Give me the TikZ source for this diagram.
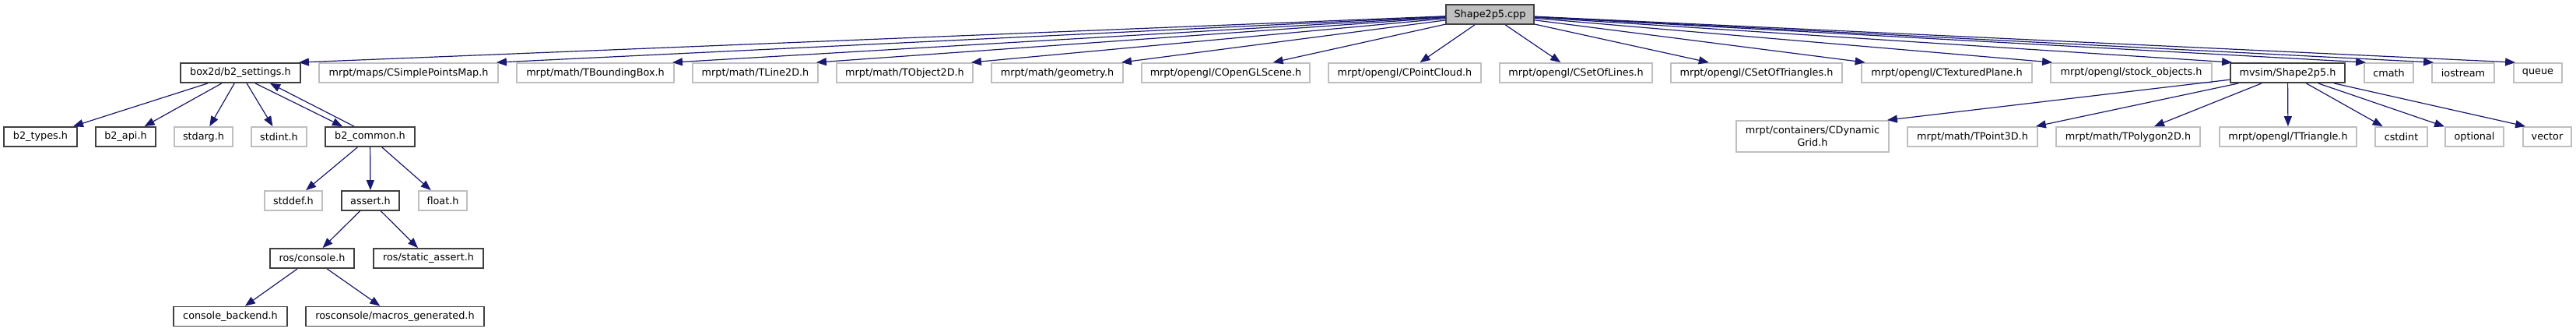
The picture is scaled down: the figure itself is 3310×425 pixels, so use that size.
\documentclass[tikz,border=0pt]{standalone}
\usepackage{fontspec}
\setmainfont{DejaVu Sans}
\usetikzlibrary{arrows.meta}
\definecolor{edgeblue}{HTML}{191970}
\definecolor{grey25}{HTML}{404040}
\definecolor{grey75}{HTML}{BFBFBF}
\begin{document}
\begin{tikzpicture}[x=0.5pt, y=-0.5pt,
    box/.style={draw, line width=0.9pt, inner sep=0pt, minimum height=12.5pt,
      align=center, font=\fontsize{6.4}{7.8}\selectfont},
    hdr/.style={box, draw=grey25},
    sys/.style={box, draw=grey75},
    root/.style={box, draw=grey25, fill=grey75},
    inc/.style={draw=edgeblue, line width=0.6pt, -{Triangle[length=6.5pt,width=5pt]}}]
    \useasboundingbox (0,0) rectangle (3310,425);
    % the file itself
    \node[root, minimum width=56.5pt] (cpp) at (1914.5,18.5) {Shape2p5.cpp};
    % first level
    \node[hdr, minimum width=77pt] (set) at (309,93.5) {box2d/b2\_settings.h};
    \node[sys, minimum width=115pt] (spm) at (525,93.5) {mrpt/maps/CSimplePointsMap.h};
    \node[sys, minimum width=101pt] (tbb) at (765,93.5) {mrpt/math/TBoundingBox.h};
    \node[sys, minimum width=80.5pt] (tl2) at (970.5,93.5) {mrpt/math/TLine2D.h};
    \node[sys, minimum width=87.5pt] (to2) at (1162.5,93.5) {mrpt/math/TObject2D.h};
    \node[sys, minimum width=84.5pt] (geo) at (1358.5,93.5) {mrpt/math/geometry.h};
    \node[sys, minimum width=108pt] (ogs) at (1575,93.5) {mrpt/opengl/COpenGLScene.h};
    \node[sys, minimum width=98pt] (opc) at (1805,93.5) {mrpt/opengl/CPointCloud.h};
    \node[sys, minimum width=98pt] (sol) at (2025,93.5) {mrpt/opengl/CSetOfLines.h};
    \node[sys, minimum width=110pt] (sot) at (2257,93.5) {mrpt/opengl/CSetOfTriangles.h};
    \node[sys, minimum width=109.5pt] (tpl) at (2501.5,93.5) {mrpt/opengl/CTexturedPlane.h};
    \node[sys, minimum width=103.5pt] (sto) at (2738.5,93.5) {mrpt/opengl/stock\_objects.h};
    \node[hdr, minimum width=73.5pt] (mvs) at (2939.5,93.5) {mvsim/Shape2p5.h};
    \node[sys, minimum width=31.5pt] (cma) at (3069.5,93.5) {cmath};
    \node[sys, minimum width=40pt] (ios) at (3165,93.5) {iostream};
    \node[sys, minimum width=31pt] (que) at (3261,93.5) {queue};
    % second level
    \node[hdr, minimum width=47pt] (typ) at (52,175.5) {b2\_types.h};
    \node[hdr, minimum width=38.5pt] (api) at (161.5,175.5) {b2\_api.h};
    \node[sys, minimum width=37.5pt] (sta) at (261.5,175.5) {stdarg.h};
    \node[sys, minimum width=35.5pt] (sti) at (358.5,175.5) {stdint.h};
    \node[hdr, minimum width=57.5pt] (com) at (475.5,175.5) {b2\_common.h};
    \node[sys, minimum width=98pt, minimum height=20pt] (dyn) at (2329,175) {mrpt/containers/CDynamic\\Grid.h};
    \node[sys, minimum width=83.5pt] (tp3) at (2534.5,175.5) {mrpt/math/TPoint3D.h};
    \node[sys, minimum width=92.5pt] (pol) at (2734.5,175.5) {mrpt/math/TPolygon2D.h};
    \node[sys, minimum width=88pt] (tri) at (2940,175.5) {mrpt/opengl/TTriangle.h};
    \node[sys, minimum width=33.5pt] (csi) at (3085.5,175.5) {cstdint};
    \node[sys, minimum width=37.5pt] (opt) at (3179.5,175.5) {optional};
    \node[sys, minimum width=31pt] (vec) at (3273,175.5) {vector};
    % lower levels
    \node[sys, minimum width=37pt] (sdf) at (377,257.5) {stddef.h};
    \node[hdr, minimum width=37pt] (ass) at (476,257.5) {assert.h};
    \node[sys, minimum width=31pt] (flt) at (569,257.5) {float.h};
    \node[hdr, minimum width=54pt] (con) at (401,331.5) {ros/console.h};
    \node[hdr, minimum width=70.5pt] (sas) at (550.5,331.5) {ros/static\_assert.h};
    \node[hdr, minimum width=73pt] (bak) at (296,406) {console\_backend.h};
    \node[hdr, minimum width=114.5pt] (mac) at (507.5,406) {rosconsole/macros\_generated.h};
    % includes of the file
    \foreach \t in {set,spm,tbb,tl2,to2,geo}
      \draw[inc] (cpp) -- ([xshift=-1.5pt]\t.north east);
    \foreach \t in {ogs,opc,sol,sot,tpl}
      \draw[inc] (cpp) -- (\t);
    \foreach \t in {sto,mvs,cma,ios,que}
      \draw[inc] (cpp) -- ([xshift=1.5pt]\t.north west);
    % includes of mvsim/Shape2p5.h
    \draw[inc] (mvs) -- ([xshift=-1.5pt]dyn.north east);
    \draw[inc] (mvs) -- ([xshift=-1.5pt]tp3.north east);
    \foreach \t in {pol,tri,csi,opt}
      \draw[inc] (mvs) -- (\t);
    \draw[inc] (mvs) -- ([xshift=2pt]vec.north west);
    % box2d part
    \foreach \t in {typ,api,sta,sti}
      \draw[inc] (set) -- (\t);
    \draw[inc] ([xshift=9.5pt]set.south) -- ([xshift=-17.75pt]com.north);
    \draw[inc] ([xshift=-10.25pt]com.north) -- ([xshift=19pt]set.south);
    \foreach \t in {sdf,ass,flt}
      \draw[inc] (com) -- (\t);
    \foreach \t in {con,sas}
      \draw[inc] (ass) -- (\t);
    \foreach \t in {bak,mac}
      \draw[inc] (con) -- (\t);
\end{tikzpicture}
\end{document}
